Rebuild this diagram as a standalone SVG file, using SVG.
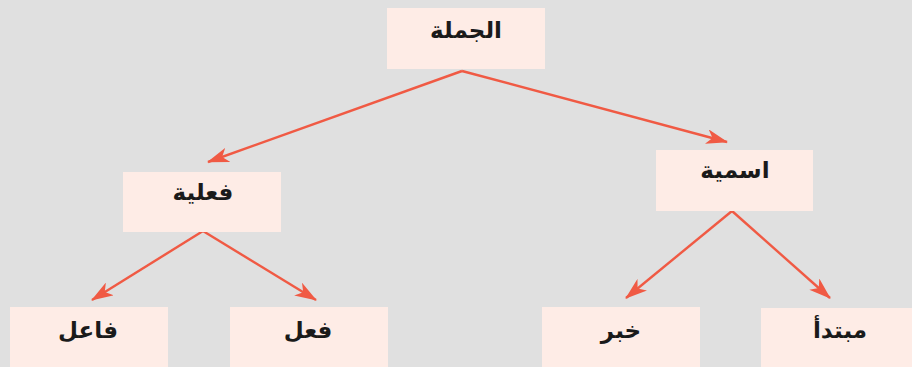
<svg xmlns="http://www.w3.org/2000/svg" width="912" height="367" viewBox="0 0 912 367">
<defs>
<marker id="ah" viewBox="0 0 22 15" refX="21" refY="7.5" markerWidth="22" markerHeight="15" markerUnits="userSpaceOnUse" orient="auto">
<path d="M0,0 L22,7.5 L0,15 L6,7.5 Z" fill="#f05a44"/>
</marker>
<style>
.box{fill:#feece6;}
.lbl{font-family:"DejaVu Sans",sans-serif;font-weight:bold;font-size:23px;fill:#1a1a1a;text-anchor:middle;direction:rtl;}
.edge{stroke:#f05a44;stroke-width:2.4;fill:none;marker-end:url(#ah);}
</style>
</defs>
<rect width="912" height="367" fill="#e0e0e0"/>
<g id="connectors">
<line class="edge" x1="462" y1="71" x2="208" y2="162"/>
<line class="edge" x1="462" y1="71" x2="727" y2="142"/>
<line class="edge" x1="203" y1="231" x2="92" y2="300"/>
<line class="edge" x1="203" y1="231" x2="316" y2="300"/>
<line class="edge" x1="732" y1="211" x2="626" y2="298"/>
<line class="edge" x1="732" y1="211" x2="830" y2="298"/>
</g>
<g id="n-jumla"><rect class="box" x="387" y="8" width="158" height="61"/><text class="lbl" x="466" y="38">الجملة</text></g>
<g id="n-filiyya"><rect class="box" x="123" y="172" width="158" height="60"/><text class="lbl" x="203" y="200">فعلية</text></g>
<g id="n-ismiyya"><rect class="box" x="656" y="150" width="157" height="61"/><text class="lbl" x="735" y="178">اسمية</text></g>
<g id="n-fail"><rect class="box" x="10" y="307" width="158" height="60"/><text class="lbl" x="88" y="338">فاعل</text></g>
<g id="n-fil"><rect class="box" x="230" y="307" width="158" height="60"/><text class="lbl" x="308" y="338">فعل</text></g>
<g id="n-khabar"><rect class="box" x="542" y="307" width="158" height="60"/><text class="lbl" x="621" y="338">خبر</text></g>
<g id="n-mubtada"><rect class="box" x="761" y="308" width="151" height="59"/><text class="lbl" x="840" y="338">مبتدأ</text></g>
</svg>
